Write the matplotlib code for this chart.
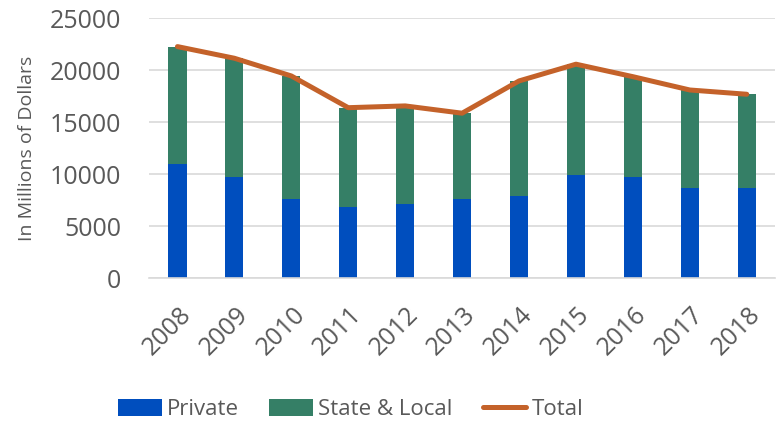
import matplotlib
matplotlib.use("Agg")
import matplotlib.pyplot as plt
import matplotlib.transforms as mtransforms
import numpy as np

years = ["2008", "2009", "2010", "2011", "2012", "2013", "2014", "2015", "2016", "2017", "2018"]
private = [11000, 9710, 7650, 6890, 7170, 7650, 7940, 9960, 9710, 8710, 8710]
state_local = [11270, 11440, 11800, 9510, 9400, 8220, 11030, 10620, 9670, 9390, 8980]
total = [p + s for p, s in zip(private, state_local)]
yticks = [0, 5000, 10000, 15000, 20000, 25000]

plt.rcParams['font.family'] = ['Open Sans', 'DejaVu Sans']
gray = '#595959'
blue = '#004EBE'
green = '#357F66'
orange = '#C4622A'

fig = plt.figure(figsize=(7.76, 4.23), dpi=100)
ax = fig.add_axes([0.192, 0.342, 0.807, 0.615])
x = np.arange(len(years))
w = 0.32
ax.bar(x, private, w, color=blue, label='Private', zorder=2)
ax.bar(x, state_local, w, bottom=private, color=green, label='State & Local', zorder=2)
ax.plot(x, total, color=orange, lw=3.6, label='Total', zorder=3, solid_capstyle='round')

ax.set_xlim(-0.5, len(years) - 0.5)
ax.set_ylim(0, 25000)
ax.set_yticks(yticks)
ax.set_yticklabels([str(v) for v in yticks], fontsize=18, color=gray)
ax.set_xticks(x)
ax.set_xticklabels(years, fontsize=18, color=gray, rotation=45, ha='right', va='top',
                   rotation_mode='anchor')
ax.tick_params(axis='both', length=0)
ax.tick_params(axis='x', pad=17)
ax.tick_params(axis='y', pad=20)
offset = mtransforms.ScaledTranslation(1 / 100, 0, fig.dpi_scale_trans)
for lab in ax.get_xticklabels():
    lab.set_transform(lab.get_transform() + offset)
ax.grid(axis='y', color='#D9D9D9', lw=1.2, zorder=0)
ax.set_axisbelow(True)
for s in ['top', 'right', 'left']:
    ax.spines[s].set_visible(False)
ax.spines['bottom'].set_color('#D9D9D9')
ax.spines['bottom'].set_linewidth(1.2)
ax.set_ylabel('In Millions of Dollars', fontsize=14, color=gray, labelpad=10)

handles, labels = ax.get_legend_handles_labels()
order = [labels.index(n) for n in ['Private', 'State & Local', 'Total']]
fig.legend([handles[i] for i in order], [labels[i] for i in order],
           loc='center', bbox_to_anchor=(0.452, 0.032), ncol=3, frameon=False,
           fontsize=16, labelcolor=gray, handlelength=1.95, handleheight=0.8,
           handletextpad=0.25, columnspacing=1.35)

fig.savefig('out.png', dpi=100)
